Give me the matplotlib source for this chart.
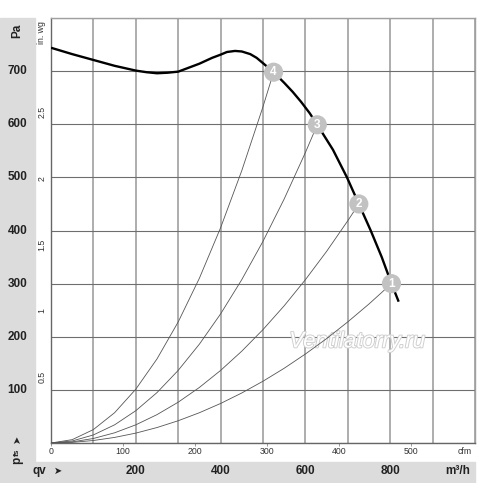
import matplotlib
matplotlib.use("Agg")
import matplotlib.pyplot as plt
import matplotlib.patheffects as pe
from matplotlib.patches import Rectangle
from matplotlib.transforms import blended_transform_factory

plt.rcParams['font.family'] = ['Liberation Sans', 'DejaVu Sans']

# fan curve (m3/h, Pa)
q_fan = [0, 50, 100, 150, 200, 225, 250, 275, 300, 350, 380, 400, 415, 434, 450,
         470, 485, 500, 525, 550, 570, 590, 610, 628, 665, 698, 726, 754, 780, 803, 820]
p_fan = [744, 732, 721, 710, 701, 698, 696, 697, 699, 714, 725, 731, 736, 738, 737,
         732, 725, 715, 698, 678, 661, 642, 621, 599, 552, 500, 450, 400, 350, 300, 266]

# system curves 1..4 (m3/h, Pa)
q_sys1 = [0, 50, 100, 150, 200, 250, 300, 350, 400, 450, 500, 550, 600, 650, 700, 750, 803]
p_sys1 = [0, 1.2, 4.7, 10.5, 18.6, 29.1, 41.9, 57.0, 74.4, 94.2, 116.3, 140.7, 167.5, 196.5, 228.0, 261.7, 300]
q_sys2 = [0, 50, 100, 150, 200, 250, 300, 350, 400, 450, 500, 550, 600, 650, 700, 726]
p_sys2 = [0, 2.1, 8.5, 19.2, 34.2, 53.4, 76.8, 104.6, 136.6, 172.9, 213.5, 258.3, 307.4, 360.7, 418.4, 450]
q_sys3 = [0, 50, 100, 150, 200, 250, 300, 350, 400, 450, 500, 550, 600, 628]
p_sys3 = [0, 3.8, 15.2, 34.2, 60.8, 94.9, 136.7, 186.1, 243.0, 307.6, 379.7, 459.4, 546.8, 599]
q_sys4 = [0, 50, 100, 150, 200, 250, 300, 350, 400, 450, 500, 525]
p_sys4 = [0, 6.3, 25.3, 57.0, 101.3, 158.3, 227.9, 310.2, 405.2, 512.8, 633.1, 698]

# operating points
op_labels = ['1', '2', '3', '4']
op_q = [803, 726, 628, 525]
op_p = [300, 450, 599, 698]

x_grid = [0, 100, 200, 300, 400, 500, 600, 700, 800, 900, 1000]
x_labels = [200, 400, 600, 800]
y_grid = [0, 100, 200, 300, 400, 500, 600, 700, 800]
y_labels = [100, 200, 300, 400, 500, 600, 700]
cfm_ticks = [0, 100, 200, 300, 400, 500]
inwg_ticks = [0.5, 1, 1.5, 2, 2.5]
inwg_labels = ['0.5', '1', '1.5', '2', '2.5']

W, H = 500, 483
fig = plt.figure(figsize=(W / 100, H / 100), dpi=100)
band = '#dcdcdc'
fig.patches.append(Rectangle((0, 0), 35 / W, 1 - 18 / H, transform=fig.transFigure,
                             color=band, zorder=-5))
fig.patches.append(Rectangle((0, 0), 475 / W, 1 - 462 / H, transform=fig.transFigure,
                             color=band, zorder=-5))

ax = fig.add_axes([51 / W, 1 - 443 / H, 424 / W, 425 / H])
ax.set_xlim(0, 1000)
ax.set_ylim(0, 800)
ax.set_facecolor('white')

ax.set_xticks(x_grid)
ax.set_yticks(y_grid)
ax.tick_params(axis='both', length=0, labelbottom=False, labelleft=False)

ax.xaxis.grid(True, color='#a0a0a0', lw=1.2)
ax.yaxis.grid(True, color='#6e6e6e', lw=0.8)
ax.set_axisbelow(True)
for s in ['top', 'right']:
    ax.spines[s].set_color('#a0a0a0')
    ax.spines[s].set_linewidth(1.0)
for s in ['left', 'bottom']:
    ax.spines[s].set_color('#666')
    ax.spines[s].set_linewidth(1.0)

# Pa and m3/h labels in the grey bands
ty = blended_transform_factory(fig.transFigure, ax.transData)
for v in y_labels:
    ax.text(17.5 / W, v, str(v), transform=ty, fontsize=8.5, fontweight='bold',
            ha='center', va='center', color='#222', clip_on=False)
tx = blended_transform_factory(ax.transData, fig.transFigure)
for v in x_labels:
    ax.text(v, 1 - 471 / H, str(v), transform=tx, fontsize=8.5, fontweight='bold',
            ha='center', va='center', color='#222', clip_on=False)

# system curves
for q, p in [(q_sys1, p_sys1), (q_sys2, p_sys2), (q_sys3, p_sys3), (q_sys4, p_sys4)]:
    ax.plot(q, p, color='#555', lw=0.6, zorder=3)

# fan curve
ax.plot(q_fan, p_fan, color='black', lw=1.7, zorder=4, solid_capstyle='butt')

# operating point markers
ax.scatter(op_q, op_p, s=190, color='#c2c2c2', edgecolors='none', zorder=5)
for lab, q, p in zip(op_labels, op_q, op_p):
    ax.text(q, p, lab, color='white', fontsize=8.5, fontweight='bold',
            ha='center', va='center', zorder=6)

# cfm axis
secx = ax.secondary_xaxis('bottom', functions=(lambda v: v / 1.699, lambda v: v * 1.699))
secx.set_xticks(cfm_ticks)
secx.tick_params(length=2, width=0.6, color='#888', labelsize=6.3, labelcolor='#333', pad=1)
secx.spines['bottom'].set_visible(False)

# in. wg axis
secy = ax.secondary_yaxis('left', functions=(lambda v: v / 249.09, lambda v: v * 249.09))
secy.set_yticks(inwg_ticks)
secy.set_yticklabels(inwg_labels)
secy.tick_params(length=0, labelsize=6.3, labelcolor='#333', pad=3.5)
for t in secy.get_yticklabels():
    t.set_rotation(90)
    t.set_va('center')
secy.spines['left'].set_visible(False)

# unit labels
fig.text(17 / W, 1 - 31 / H, 'Pa', fontsize=8.5, fontweight='bold', rotation=90,
         ha='center', va='center', color='#222')
fig.text(42 / W, 1 - 33 / H, 'in. wg', fontsize=6.3, rotation=90,
         ha='center', va='center', color='#333')
fig.text(465 / W, 1 - 451 / H, 'cfm', fontsize=6.3, ha='center', va='center', color='#333')
fig.text(458 / W, 1 - 471 / H, 'm³/h', fontsize=8.5, fontweight='bold',
         ha='center', va='center', color='#222')
fig.text(39 / W, 1 - 471 / H, 'qv', fontsize=8.5, fontweight='bold',
         ha='center', va='center', color='#222')
fig.text(58 / W, 1 - 471 / H, '➤', fontsize=7, ha='center', va='center', color='#222',
         family=['DejaVu Sans'])
fig.text(17 / W, 1 - 460 / H, 'p', fontsize=8.5, fontweight='bold', rotation=90,
         ha='center', va='center', color='#222')
fig.text(17 / W, 1 - 452 / H, 'fs', fontsize=6, fontweight='bold', rotation=90,
         ha='center', va='center', color='#222')
fig.text(17 / W, 1 - 439 / H, '➤', fontsize=7, rotation=90, ha='center', va='center',
         color='#222', family=['DejaVu Sans'])

# watermark
ax.text(0.722, 0.238, 'Ventilatorry.ru', transform=ax.transAxes, fontsize=16,
        style='italic', color='white', ha='center', va='center', zorder=2,
        path_effects=[pe.withStroke(linewidth=1.4, foreground='#d0d0d0')])

fig.savefig('out.png', dpi=100)
